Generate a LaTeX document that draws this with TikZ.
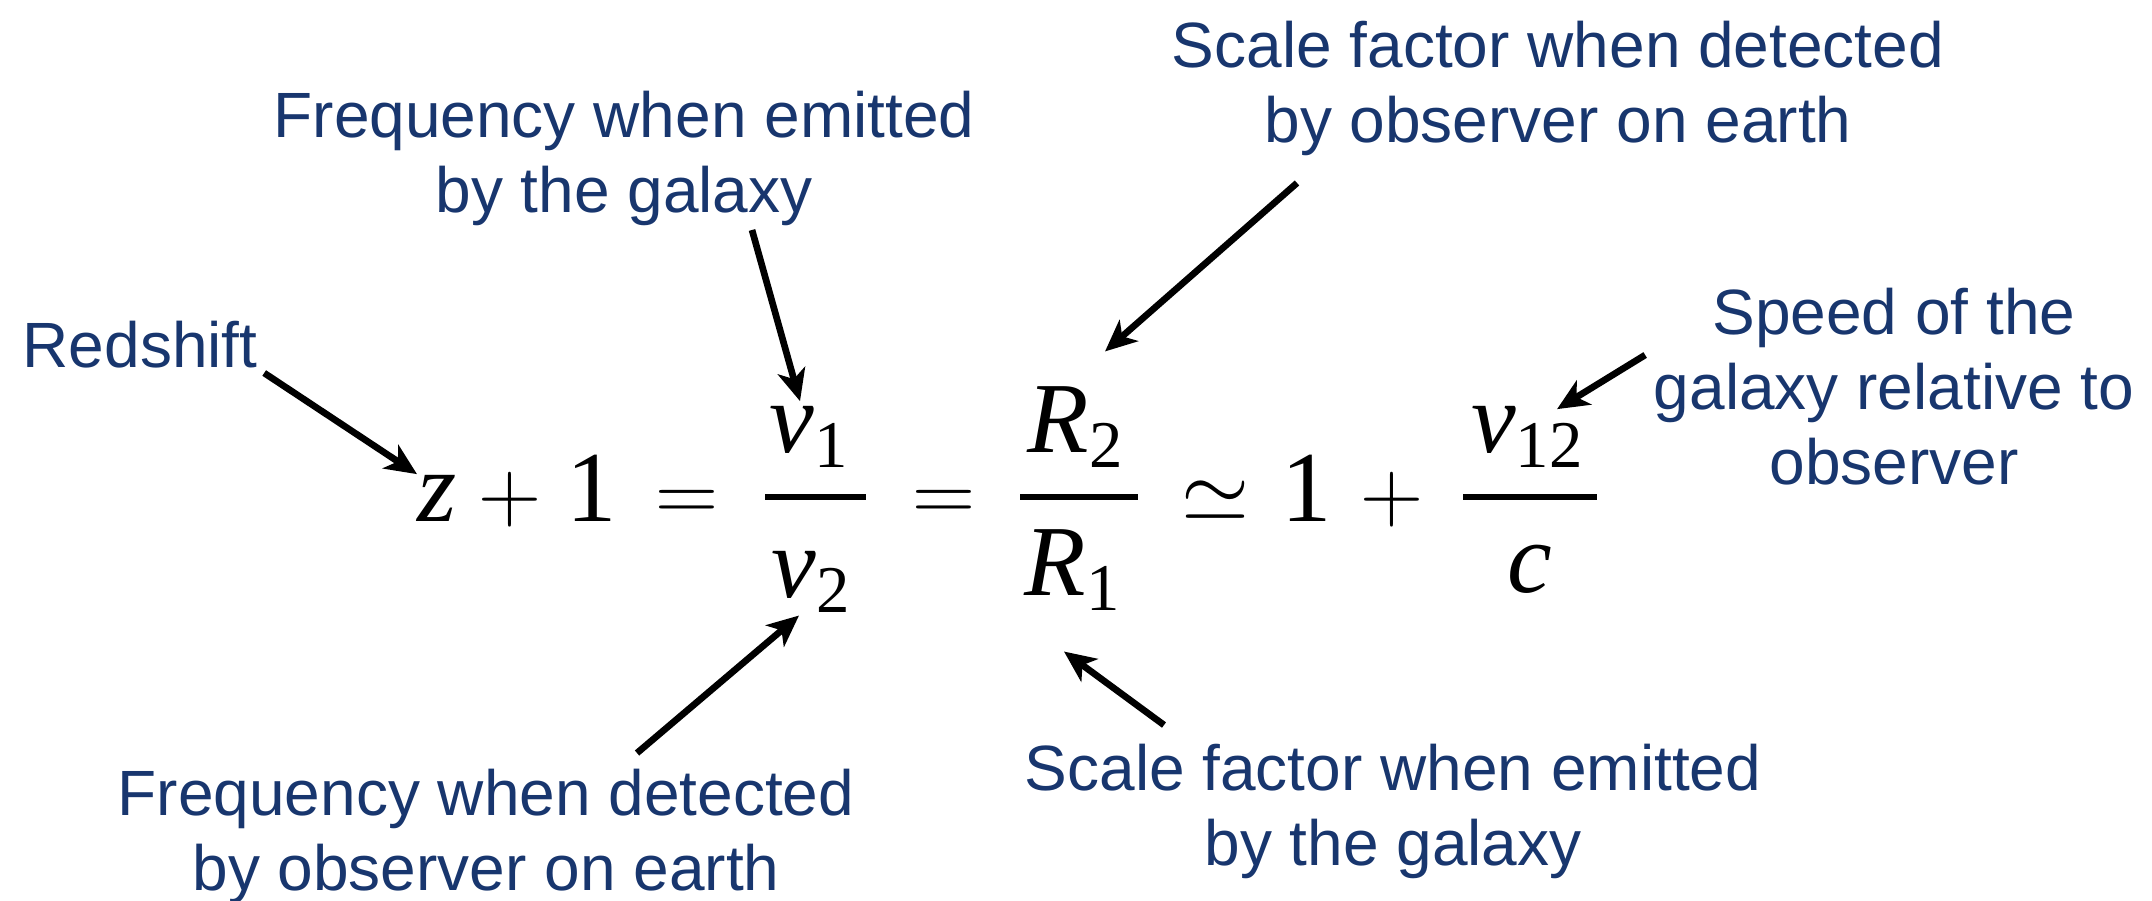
\documentclass[tikz,border=0pt]{standalone}
\usepackage{fontspec}
\newfontfamily\labelfont{Liberation Sans}
\newfontfamily\eqfont{Liberation Serif}
\usetikzlibrary{arrows.meta, calc}
\definecolor{labelblue}{RGB}{24,54,110}
\newcommand{\eqsub}[1]{\raisebox{-4.5pt}{\upshape\fontsize{19pt}{19pt}\selectfont #1}}
\tikzset{
  lbl/.style={font=\labelfont\fontsize{18.2pt}{21.3pt}\selectfont,
    text=labelblue, align=center, inner sep=0pt},
  sym/.style={font=\eqfont\fontsize{28.6pt}{34pt}\selectfont,
    inner sep=0pt, anchor=base},
  fracbar/.style={line width=1.5pt},
  pointer/.style={line width=1.9pt,
    -{Stealth[length=9pt, width=8pt, inset=2.5pt]}}
}

\begin{document}
\begin{tikzpicture}[x=0.01cm, y=-0.01cm]
  \useasboundingbox (0,0) rectangle (2152,900);

  % ── the redshift relation ────────────────────────────────────────
  \node[sym, anchor=base west] (z) at (417,521) {\itshape z};
  \node[sym] (plusA) at (510,521)  {$+$};
  \node[sym] (oneA)  at (592,521)  {1};
  \node[sym] (eqA)   at (687,521)  {$=$};
  \draw[fracbar] (765,497) -- (866,497);
  \node[sym] (nu1)   at (809,452)  {\itshape ν\eqsub{1}};
  \node[sym] (nu2)   at (811,597)  {\itshape ν\eqsub{2}};
  \node[sym] (eqB)   at (944,521)  {$=$};
  \draw[fracbar] (1020,497) -- (1138,497);
  \node[sym] (R2)    at (1075,452) {\itshape R\eqsub{2}};
  \node[sym] (R1)    at (1072,595) {\itshape R\eqsub{1}};
  \node[sym] (simeq) at (1216,521) {$\simeq$};
  \node[sym] (oneB)  at (1307,521) {1};
  \node[sym] (plusB) at (1392,521) {$+$};
  \draw[fracbar] (1463,497) -- (1597,497);
  \node[sym] (v12)   at (1527,452) {\itshape v\eqsub{12}};
  \node[sym] (c)     at (1530,592) {\itshape c};

  % ── labels ───────────────────────────────────────────────────────
  \node[lbl, anchor=base west] (redshift) at (22,367) {Redshift};
  \node[lbl] (femit)   at (624,158)  {Frequency when emitted\\by the galaxy};
  \node[lbl] (sdetect) at (1558,88)  {Scale factor when detected\\by observer on earth};
  \node[lbl] (speed)   at (1894,387) {Speed of the\\galaxy relative to\\observer};
  \node[lbl] (fdetect) at (486,836)  {Frequency when detected\\by observer on earth};
  \node[lbl] (semit)   at (1393,811) {Scale factor when emitted\\by the galaxy};

  % ── pointers ─────────────────────────────────────────────────────
  \draw[pointer] ($(redshift.base east)+(6,6)$)  -- (z.north west);
  \draw[pointer] ($(femit.south)+(128,4)$)       -- ($(nu1.north)+(-9,-4)$);
  \draw[pointer] ($(sdetect.south)+(-261,27)$)   -- ($(R2.north)+(30,-34)$);
  \draw[pointer] ($(speed.west)+(-8,-32)$)       -- ($(v12.north)+(30,4)$);
  \draw[pointer] ($(fdetect.north)+(151,-15)$)   -- ($(nu2.south)+(-12,2)$);
  \draw[pointer] ($(semit.north)+(-229,-18)$)    -- ($(R1.south)+(-8,40)$);
\end{tikzpicture}
\end{document}
